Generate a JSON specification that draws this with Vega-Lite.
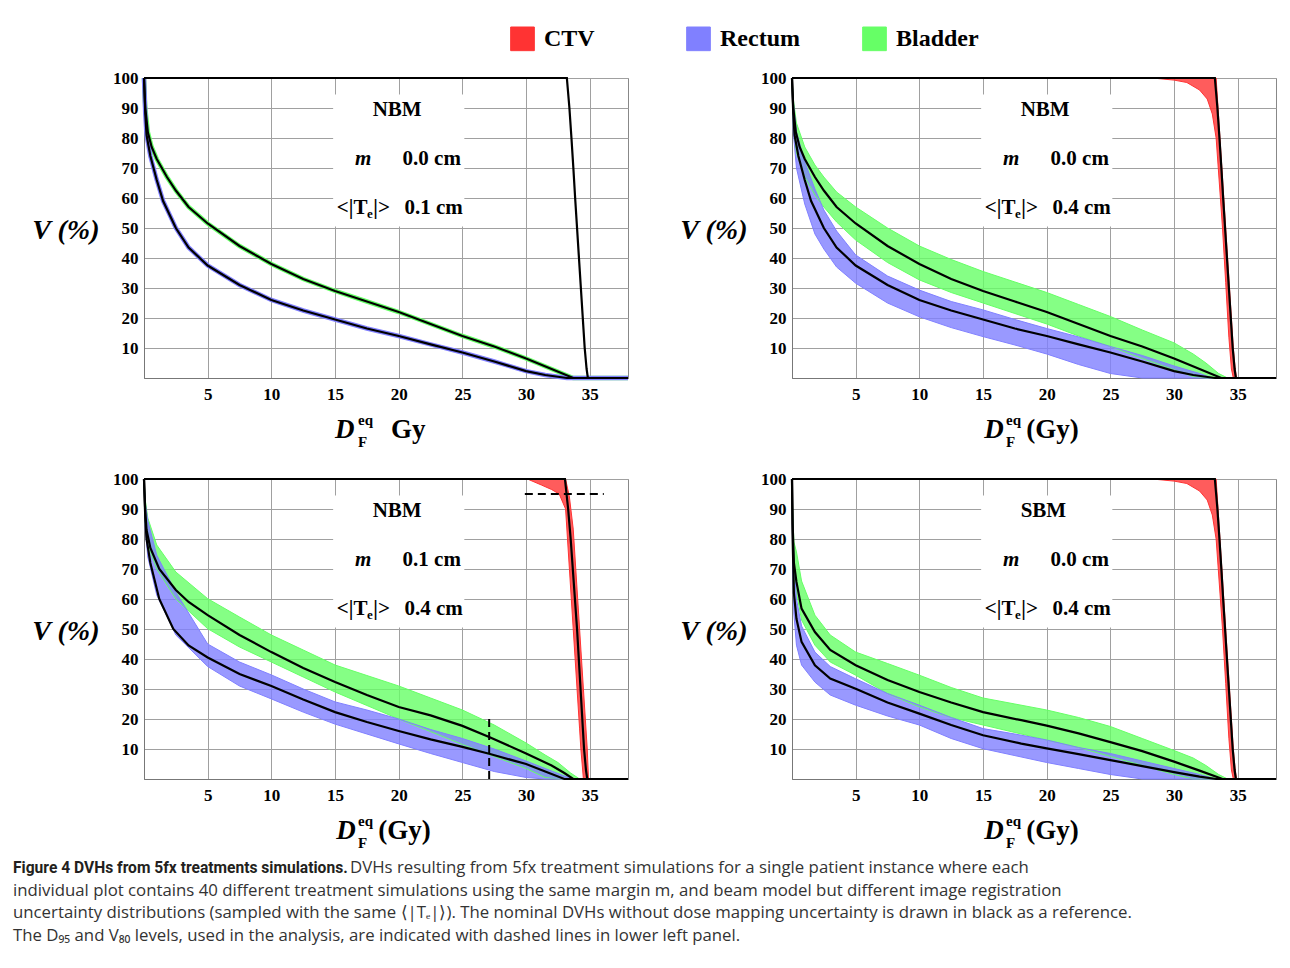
{
"$schema": "https://vega.github.io/schema/vega-lite/v6.json",
"background": "white",
"padding": {"left": 13, "top": 26, "right": 5, "bottom": 5},
"spacing": 5,
"datasets": {
"panels": [{"p":1,"r":1,"c":1},{"p":2,"r":1,"c":2},{"p":3,"r":2,"c":1},{"p":4,"r":2,"c":2}],
"cap": [
{"part":"head","line":1,"txt":"Figure 4 DVHs from 5fx treatments simulations."},
{"part":"tail","line":1,"txt":"DVHs resulting from 5fx treatment simulations for a single patient instance where each"},
{"part":"body","line":2,"txt":"individual plot contains 40 different treatment simulations using the same margin m, and beam model but different image registration"},
{"part":"body","line":3,"txt":"uncertainty distributions (sampled with the same ⟨|Tₑ|⟩). The nominal DVHs without dose mapping uncertainty is drawn in black as a reference."},
{"part":"body","line":4,"txt":"The D₉₅ and V₈₀ levels, used in the analysis, are indicated with dashed lines in lower left panel."}
],
"d": [
{"p":1,"t":"box","x":14.85,"x2":25.15,"y":94.5,"y2":50.5},
{"p":2,"t":"box","x":14.85,"x2":25.15,"y":94.5,"y2":50.5},
{"p":3,"t":"box","x":14.85,"x2":25.15,"y":94.5,"y2":50.5},
{"p":4,"t":"box","x":14.85,"x2":25.15,"y":94.5,"y2":50.5},

{"p":1,"t":"txt","k":"A","x":17.95,"y":87.4,"label":"NBM"},
{"p":1,"t":"txt","k":"B","x":16.56,"y":71,"label":"m"},
{"p":1,"t":"txt","k":"A","x":20.3,"y":71,"label":"0.0 cm"},
{"p":1,"t":"txt","k":"A","x":15.14,"y":54.6,"label":"<|T"},
{"p":1,"t":"txt","k":"C","x":17.5,"y":53.2,"label":"e"},
{"p":1,"t":"txt","k":"A","x":18.0,"y":54.6,"label":"|>"},
{"p":1,"t":"txt","k":"A","x":20.45,"y":54.6,"label":"0.1 cm"},
{"p":1,"t":"txt","k":"D","x":15.0,"y":-20,"label":"D"},
{"p":1,"t":"txt","k":"E","x":16.8,"y":-15.7,"label":"eq"},
{"p":1,"t":"txt","k":"E","x":16.8,"y":-23,"label":"F"},
{"p":1,"t":"txt","k":"F","x":19.4,"y":-20,"label":"Gy"},

{"p":2,"t":"txt","k":"A","x":17.95,"y":87.4,"label":"NBM"},
{"p":2,"t":"txt","k":"B","x":16.56,"y":71,"label":"m"},
{"p":2,"t":"txt","k":"A","x":20.3,"y":71,"label":"0.0 cm"},
{"p":2,"t":"txt","k":"A","x":15.14,"y":54.6,"label":"<|T"},
{"p":2,"t":"txt","k":"C","x":17.5,"y":53.2,"label":"e"},
{"p":2,"t":"txt","k":"A","x":18.0,"y":54.6,"label":"|>"},
{"p":2,"t":"txt","k":"A","x":20.45,"y":54.6,"label":"0.4 cm"},
{"p":2,"t":"txt","k":"D","x":15.1,"y":-20,"label":"D"},
{"p":2,"t":"txt","k":"E","x":16.8,"y":-15.7,"label":"eq"},
{"p":2,"t":"txt","k":"E","x":16.8,"y":-23,"label":"F"},
{"p":2,"t":"txt","k":"F","x":18.4,"y":-20,"label":"(Gy)"},

{"p":3,"t":"txt","k":"A","x":17.95,"y":87.4,"label":"NBM"},
{"p":3,"t":"txt","k":"B","x":16.56,"y":71,"label":"m"},
{"p":3,"t":"txt","k":"A","x":20.3,"y":71,"label":"0.1 cm"},
{"p":3,"t":"txt","k":"A","x":15.14,"y":54.6,"label":"<|T"},
{"p":3,"t":"txt","k":"C","x":17.5,"y":53.2,"label":"e"},
{"p":3,"t":"txt","k":"A","x":18.0,"y":54.6,"label":"|>"},
{"p":3,"t":"txt","k":"A","x":20.45,"y":54.6,"label":"0.4 cm"},
{"p":3,"t":"txt","k":"D","x":15.1,"y":-20,"label":"D"},
{"p":3,"t":"txt","k":"E","x":16.8,"y":-15.7,"label":"eq"},
{"p":3,"t":"txt","k":"E","x":16.8,"y":-23,"label":"F"},
{"p":3,"t":"txt","k":"F","x":18.4,"y":-20,"label":"(Gy)"},

{"p":4,"t":"txt","k":"A","x":17.95,"y":87.4,"label":"SBM"},
{"p":4,"t":"txt","k":"B","x":16.56,"y":71,"label":"m"},
{"p":4,"t":"txt","k":"A","x":20.3,"y":71,"label":"0.0 cm"},
{"p":4,"t":"txt","k":"A","x":15.14,"y":54.6,"label":"<|T"},
{"p":4,"t":"txt","k":"C","x":17.5,"y":53.2,"label":"e"},
{"p":4,"t":"txt","k":"A","x":18.0,"y":54.6,"label":"|>"},
{"p":4,"t":"txt","k":"A","x":20.45,"y":54.6,"label":"0.4 cm"},
{"p":4,"t":"txt","k":"D","x":15.1,"y":-20,"label":"D"},
{"p":4,"t":"txt","k":"E","x":16.8,"y":-15.7,"label":"eq"},
{"p":4,"t":"txt","k":"E","x":16.8,"y":-23,"label":"F"},
{"p":4,"t":"txt","k":"F","x":18.4,"y":-20,"label":"(Gy)"},

{"p":3,"t":"dash","g":"h","x":29.9,"y":95},
{"p":3,"t":"dash","g":"h","x":36.1,"y":95},
{"p":3,"t":"dash","g":"v","x":27.1,"y":0},
{"p":3,"t":"dash","g":"v","x":27.1,"y":20},

{"p":1,"s":"Bladder","t":"nom","x":0,"y":100},{"p":1,"s":"Bladder","t":"nom","x":0.1,"y":90},{"p":1,"s":"Bladder","t":"nom","x":0.3,"y":82},{"p":1,"s":"Bladder","t":"nom","x":0.6,"y":77},{"p":1,"s":"Bladder","t":"nom","x":1,"y":73},{"p":1,"s":"Bladder","t":"nom","x":1.8,"y":67},{"p":1,"s":"Bladder","t":"nom","x":2.5,"y":62.5},{"p":1,"s":"Bladder","t":"nom","x":3.5,"y":57},{"p":1,"s":"Bladder","t":"nom","x":5,"y":51.5},{"p":1,"s":"Bladder","t":"nom","x":7.5,"y":44},{"p":1,"s":"Bladder","t":"nom","x":10,"y":38},{"p":1,"s":"Bladder","t":"nom","x":12.5,"y":33},{"p":1,"s":"Bladder","t":"nom","x":15,"y":29},{"p":1,"s":"Bladder","t":"nom","x":17.5,"y":25.5},{"p":1,"s":"Bladder","t":"nom","x":20,"y":22},{"p":1,"s":"Bladder","t":"nom","x":22.5,"y":18},{"p":1,"s":"Bladder","t":"nom","x":25,"y":14},{"p":1,"s":"Bladder","t":"nom","x":27.5,"y":10.5},{"p":1,"s":"Bladder","t":"nom","x":30,"y":6.5},{"p":1,"s":"Bladder","t":"nom","x":32,"y":3},{"p":1,"s":"Bladder","t":"nom","x":33.7,"y":0},{"p":1,"s":"Bladder","t":"nom","x":38,"y":0},
{"p":1,"s":"Rectum","t":"nom","x":0,"y":100},{"p":1,"s":"Rectum","t":"nom","x":0.1,"y":88},{"p":1,"s":"Rectum","t":"nom","x":0.2,"y":81},{"p":1,"s":"Rectum","t":"nom","x":0.5,"y":74},{"p":1,"s":"Rectum","t":"nom","x":1,"y":66},{"p":1,"s":"Rectum","t":"nom","x":1.5,"y":59},{"p":1,"s":"Rectum","t":"nom","x":2.5,"y":50},{"p":1,"s":"Rectum","t":"nom","x":3.5,"y":43.5},{"p":1,"s":"Rectum","t":"nom","x":5,"y":37.5},{"p":1,"s":"Rectum","t":"nom","x":7.5,"y":31},{"p":1,"s":"Rectum","t":"nom","x":10,"y":26},{"p":1,"s":"Rectum","t":"nom","x":12.5,"y":22.5},{"p":1,"s":"Rectum","t":"nom","x":15,"y":19.5},{"p":1,"s":"Rectum","t":"nom","x":17.5,"y":16.5},{"p":1,"s":"Rectum","t":"nom","x":20,"y":14},{"p":1,"s":"Rectum","t":"nom","x":22.5,"y":11.2},{"p":1,"s":"Rectum","t":"nom","x":25,"y":8.5},{"p":1,"s":"Rectum","t":"nom","x":27.5,"y":5.5},{"p":1,"s":"Rectum","t":"nom","x":30,"y":2.3},{"p":1,"s":"Rectum","t":"nom","x":31.5,"y":1},{"p":1,"s":"Rectum","t":"nom","x":33.2,"y":0},{"p":1,"s":"Rectum","t":"nom","x":38,"y":0},
{"p":1,"s":"CTV","t":"nom","x":0,"y":100},{"p":1,"s":"CTV","t":"nom","x":33.2,"y":100},{"p":1,"s":"CTV","t":"nom","x":33.4,"y":90},{"p":1,"s":"CTV","t":"nom","x":33.56,"y":80},{"p":1,"s":"CTV","t":"nom","x":33.71,"y":70},{"p":1,"s":"CTV","t":"nom","x":33.85,"y":60},{"p":1,"s":"CTV","t":"nom","x":34,"y":50},{"p":1,"s":"CTV","t":"nom","x":34.3,"y":30},{"p":1,"s":"CTV","t":"nom","x":34.6,"y":10},{"p":1,"s":"CTV","t":"nom","x":34.75,"y":3},{"p":1,"s":"CTV","t":"nom","x":34.85,"y":0},{"p":1,"s":"CTV","t":"nom","x":38,"y":0},

{"p":2,"s":"Bladder","t":"nom","x":0,"y":100},{"p":2,"s":"Bladder","t":"nom","x":0.1,"y":90},{"p":2,"s":"Bladder","t":"nom","x":0.3,"y":82},{"p":2,"s":"Bladder","t":"nom","x":0.6,"y":77},{"p":2,"s":"Bladder","t":"nom","x":1,"y":73},{"p":2,"s":"Bladder","t":"nom","x":1.8,"y":67},{"p":2,"s":"Bladder","t":"nom","x":2.5,"y":62.5},{"p":2,"s":"Bladder","t":"nom","x":3.5,"y":57},{"p":2,"s":"Bladder","t":"nom","x":5,"y":51.5},{"p":2,"s":"Bladder","t":"nom","x":7.5,"y":44},{"p":2,"s":"Bladder","t":"nom","x":10,"y":38},{"p":2,"s":"Bladder","t":"nom","x":12.5,"y":33},{"p":2,"s":"Bladder","t":"nom","x":15,"y":29},{"p":2,"s":"Bladder","t":"nom","x":17.5,"y":25.5},{"p":2,"s":"Bladder","t":"nom","x":20,"y":22},{"p":2,"s":"Bladder","t":"nom","x":22.5,"y":18},{"p":2,"s":"Bladder","t":"nom","x":25,"y":14},{"p":2,"s":"Bladder","t":"nom","x":27.5,"y":10.5},{"p":2,"s":"Bladder","t":"nom","x":30,"y":6.5},{"p":2,"s":"Bladder","t":"nom","x":32,"y":3},{"p":2,"s":"Bladder","t":"nom","x":33.7,"y":0},{"p":2,"s":"Bladder","t":"nom","x":38,"y":0},
{"p":2,"s":"Rectum","t":"nom","x":0,"y":100},{"p":2,"s":"Rectum","t":"nom","x":0.1,"y":88},{"p":2,"s":"Rectum","t":"nom","x":0.2,"y":81},{"p":2,"s":"Rectum","t":"nom","x":0.5,"y":74},{"p":2,"s":"Rectum","t":"nom","x":1,"y":66},{"p":2,"s":"Rectum","t":"nom","x":1.5,"y":59},{"p":2,"s":"Rectum","t":"nom","x":2.5,"y":50},{"p":2,"s":"Rectum","t":"nom","x":3.5,"y":43.5},{"p":2,"s":"Rectum","t":"nom","x":5,"y":37.5},{"p":2,"s":"Rectum","t":"nom","x":7.5,"y":31},{"p":2,"s":"Rectum","t":"nom","x":10,"y":26},{"p":2,"s":"Rectum","t":"nom","x":12.5,"y":22.5},{"p":2,"s":"Rectum","t":"nom","x":15,"y":19.5},{"p":2,"s":"Rectum","t":"nom","x":17.5,"y":16.5},{"p":2,"s":"Rectum","t":"nom","x":20,"y":14},{"p":2,"s":"Rectum","t":"nom","x":22.5,"y":11.2},{"p":2,"s":"Rectum","t":"nom","x":25,"y":8.5},{"p":2,"s":"Rectum","t":"nom","x":27.5,"y":5.5},{"p":2,"s":"Rectum","t":"nom","x":30,"y":2.3},{"p":2,"s":"Rectum","t":"nom","x":31.5,"y":1},{"p":2,"s":"Rectum","t":"nom","x":33.2,"y":0},{"p":2,"s":"Rectum","t":"nom","x":38,"y":0},
{"p":2,"s":"CTV","t":"nom","x":0,"y":100},{"p":2,"s":"CTV","t":"nom","x":33.2,"y":100},{"p":2,"s":"CTV","t":"nom","x":33.4,"y":90},{"p":2,"s":"CTV","t":"nom","x":33.56,"y":80},{"p":2,"s":"CTV","t":"nom","x":33.71,"y":70},{"p":2,"s":"CTV","t":"nom","x":33.85,"y":60},{"p":2,"s":"CTV","t":"nom","x":34,"y":50},{"p":2,"s":"CTV","t":"nom","x":34.3,"y":30},{"p":2,"s":"CTV","t":"nom","x":34.6,"y":10},{"p":2,"s":"CTV","t":"nom","x":34.75,"y":3},{"p":2,"s":"CTV","t":"nom","x":34.85,"y":0},{"p":2,"s":"CTV","t":"nom","x":38,"y":0},

{"p":3,"s":"Bladder","t":"nom","x":0,"y":100},{"p":3,"s":"Bladder","t":"nom","x":0.1,"y":89},{"p":3,"s":"Bladder","t":"nom","x":0.2,"y":83},{"p":3,"s":"Bladder","t":"nom","x":0.5,"y":77},{"p":3,"s":"Bladder","t":"nom","x":1.2,"y":70},{"p":3,"s":"Bladder","t":"nom","x":2.5,"y":63},{"p":3,"s":"Bladder","t":"nom","x":3.5,"y":59},{"p":3,"s":"Bladder","t":"nom","x":5,"y":54.6},{"p":3,"s":"Bladder","t":"nom","x":7.5,"y":48},{"p":3,"s":"Bladder","t":"nom","x":10,"y":42.3},{"p":3,"s":"Bladder","t":"nom","x":12.5,"y":37},{"p":3,"s":"Bladder","t":"nom","x":15,"y":32.3},{"p":3,"s":"Bladder","t":"nom","x":17.5,"y":28},{"p":3,"s":"Bladder","t":"nom","x":20,"y":24},{"p":3,"s":"Bladder","t":"nom","x":22.5,"y":21.2},{"p":3,"s":"Bladder","t":"nom","x":25,"y":17.7},{"p":3,"s":"Bladder","t":"nom","x":27.1,"y":14},{"p":3,"s":"Bladder","t":"nom","x":30,"y":8.5},{"p":3,"s":"Bladder","t":"nom","x":32,"y":4.5},{"p":3,"s":"Bladder","t":"nom","x":33,"y":2},{"p":3,"s":"Bladder","t":"nom","x":33.7,"y":0},{"p":3,"s":"Bladder","t":"nom","x":38,"y":0},
{"p":3,"s":"Rectum","t":"nom","x":0,"y":100},{"p":3,"s":"Rectum","t":"nom","x":0.1,"y":87},{"p":3,"s":"Rectum","t":"nom","x":0.2,"y":80},{"p":3,"s":"Rectum","t":"nom","x":0.5,"y":72},{"p":3,"s":"Rectum","t":"nom","x":1.2,"y":60},{"p":3,"s":"Rectum","t":"nom","x":2.3,"y":50},{"p":3,"s":"Rectum","t":"nom","x":3.5,"y":44.5},{"p":3,"s":"Rectum","t":"nom","x":5,"y":40.5},{"p":3,"s":"Rectum","t":"nom","x":7.5,"y":35},{"p":3,"s":"Rectum","t":"nom","x":10,"y":31},{"p":3,"s":"Rectum","t":"nom","x":12.5,"y":26.5},{"p":3,"s":"Rectum","t":"nom","x":15,"y":22.3},{"p":3,"s":"Rectum","t":"nom","x":17.5,"y":19},{"p":3,"s":"Rectum","t":"nom","x":20,"y":16},{"p":3,"s":"Rectum","t":"nom","x":22.5,"y":13.2},{"p":3,"s":"Rectum","t":"nom","x":25,"y":10.7},{"p":3,"s":"Rectum","t":"nom","x":27.1,"y":8.4},{"p":3,"s":"Rectum","t":"nom","x":30,"y":5},{"p":3,"s":"Rectum","t":"nom","x":31.5,"y":2.5},{"p":3,"s":"Rectum","t":"nom","x":33,"y":0},{"p":3,"s":"Rectum","t":"nom","x":38,"y":0},
{"p":3,"s":"CTV","t":"nom","x":0,"y":100},{"p":3,"s":"CTV","t":"nom","x":33.05,"y":100},{"p":3,"s":"CTV","t":"nom","x":33.3,"y":90},{"p":3,"s":"CTV","t":"nom","x":33.5,"y":80},{"p":3,"s":"CTV","t":"nom","x":34,"y":50},{"p":3,"s":"CTV","t":"nom","x":34.55,"y":10},{"p":3,"s":"CTV","t":"nom","x":34.7,"y":3},{"p":3,"s":"CTV","t":"nom","x":34.8,"y":0},{"p":3,"s":"CTV","t":"nom","x":38,"y":0},

{"p":4,"s":"Bladder","t":"nom","x":0,"y":100},{"p":4,"s":"Bladder","t":"nom","x":0.05,"y":85},{"p":4,"s":"Bladder","t":"nom","x":0.15,"y":72},{"p":4,"s":"Bladder","t":"nom","x":0.35,"y":65.7},{"p":4,"s":"Bladder","t":"nom","x":0.75,"y":56.8},{"p":4,"s":"Bladder","t":"nom","x":1.8,"y":49},{"p":4,"s":"Bladder","t":"nom","x":3,"y":43},{"p":4,"s":"Bladder","t":"nom","x":5,"y":37.9},{"p":4,"s":"Bladder","t":"nom","x":7.5,"y":33},{"p":4,"s":"Bladder","t":"nom","x":10,"y":29},{"p":4,"s":"Bladder","t":"nom","x":12.5,"y":25.5},{"p":4,"s":"Bladder","t":"nom","x":15,"y":22.3},{"p":4,"s":"Bladder","t":"nom","x":18,"y":19.6},{"p":4,"s":"Bladder","t":"nom","x":20,"y":17.8},{"p":4,"s":"Bladder","t":"nom","x":22.5,"y":15.2},{"p":4,"s":"Bladder","t":"nom","x":25,"y":12.3},{"p":4,"s":"Bladder","t":"nom","x":27.5,"y":9.3},{"p":4,"s":"Bladder","t":"nom","x":30,"y":5.8},{"p":4,"s":"Bladder","t":"nom","x":32,"y":2.8},{"p":4,"s":"Bladder","t":"nom","x":33.8,"y":0},{"p":4,"s":"Bladder","t":"nom","x":38,"y":0},
{"p":4,"s":"Rectum","t":"nom","x":0,"y":100},{"p":4,"s":"Rectum","t":"nom","x":0.05,"y":80},{"p":4,"s":"Rectum","t":"nom","x":0.15,"y":62},{"p":4,"s":"Rectum","t":"nom","x":0.35,"y":53.4},{"p":4,"s":"Rectum","t":"nom","x":0.75,"y":45.7},{"p":4,"s":"Rectum","t":"nom","x":1.8,"y":37.9},{"p":4,"s":"Rectum","t":"nom","x":3,"y":33.5},{"p":4,"s":"Rectum","t":"nom","x":5,"y":30.1},{"p":4,"s":"Rectum","t":"nom","x":7.5,"y":25.5},{"p":4,"s":"Rectum","t":"nom","x":10,"y":21.8},{"p":4,"s":"Rectum","t":"nom","x":12.5,"y":18},{"p":4,"s":"Rectum","t":"nom","x":15,"y":14.6},{"p":4,"s":"Rectum","t":"nom","x":18,"y":11.8},{"p":4,"s":"Rectum","t":"nom","x":20,"y":10.2},{"p":4,"s":"Rectum","t":"nom","x":22.5,"y":8.3},{"p":4,"s":"Rectum","t":"nom","x":25,"y":6.3},{"p":4,"s":"Rectum","t":"nom","x":27.5,"y":4.3},{"p":4,"s":"Rectum","t":"nom","x":30,"y":2.3},{"p":4,"s":"Rectum","t":"nom","x":32,"y":0.8},{"p":4,"s":"Rectum","t":"nom","x":33.3,"y":0},{"p":4,"s":"Rectum","t":"nom","x":38,"y":0},
{"p":4,"s":"CTV","t":"nom","x":0,"y":100},{"p":4,"s":"CTV","t":"nom","x":33.2,"y":100},{"p":4,"s":"CTV","t":"nom","x":33.4,"y":90},{"p":4,"s":"CTV","t":"nom","x":33.56,"y":80},{"p":4,"s":"CTV","t":"nom","x":33.71,"y":70},{"p":4,"s":"CTV","t":"nom","x":33.85,"y":60},{"p":4,"s":"CTV","t":"nom","x":34,"y":50},{"p":4,"s":"CTV","t":"nom","x":34.3,"y":30},{"p":4,"s":"CTV","t":"nom","x":34.6,"y":10},{"p":4,"s":"CTV","t":"nom","x":34.75,"y":3},{"p":4,"s":"CTV","t":"nom","x":34.85,"y":0},{"p":4,"s":"CTV","t":"nom","x":38,"y":0},

{"p":2,"s":"Bladder","t":"band","x":0,"y":100,"y2":100},{"p":2,"s":"Bladder","t":"band","x":0.1,"y":84,"y2":93},{"p":2,"s":"Bladder","t":"band","x":0.35,"y":75,"y2":85},{"p":2,"s":"Bladder","t":"band","x":1,"y":67,"y2":77},{"p":2,"s":"Bladder","t":"band","x":1.8,"y":61,"y2":71},{"p":2,"s":"Bladder","t":"band","x":2.5,"y":57,"y2":67},{"p":2,"s":"Bladder","t":"band","x":3.5,"y":52,"y2":62},{"p":2,"s":"Bladder","t":"band","x":5,"y":46,"y2":57},{"p":2,"s":"Bladder","t":"band","x":7.5,"y":38.5,"y2":50},{"p":2,"s":"Bladder","t":"band","x":10,"y":32.7,"y2":44},{"p":2,"s":"Bladder","t":"band","x":12.5,"y":28.5,"y2":39.5},{"p":2,"s":"Bladder","t":"band","x":15,"y":25,"y2":35.5},{"p":2,"s":"Bladder","t":"band","x":17.5,"y":21.5,"y2":32},{"p":2,"s":"Bladder","t":"band","x":20,"y":18,"y2":28.5},{"p":2,"s":"Bladder","t":"band","x":22.5,"y":14,"y2":24.5},{"p":2,"s":"Bladder","t":"band","x":25,"y":10.5,"y2":20.5},{"p":2,"s":"Bladder","t":"band","x":27.5,"y":6.5,"y2":16},{"p":2,"s":"Bladder","t":"band","x":30,"y":2.7,"y2":11.7},{"p":2,"s":"Bladder","t":"band","x":31.5,"y":0.5,"y2":8},{"p":2,"s":"Bladder","t":"band","x":32.5,"y":0,"y2":5},{"p":2,"s":"Bladder","t":"band","x":33.5,"y":0,"y2":1.5},{"p":2,"s":"Bladder","t":"band","x":34.2,"y":0,"y2":0},
{"p":2,"s":"Rectum","t":"band","x":0,"y":100,"y2":100},{"p":2,"s":"Rectum","t":"band","x":0.1,"y":82,"y2":92},{"p":2,"s":"Rectum","t":"band","x":0.35,"y":70,"y2":82},{"p":2,"s":"Rectum","t":"band","x":1,"y":58,"y2":72},{"p":2,"s":"Rectum","t":"band","x":1.8,"y":48,"y2":63},{"p":2,"s":"Rectum","t":"band","x":2.5,"y":43,"y2":56},{"p":2,"s":"Rectum","t":"band","x":3.5,"y":37,"y2":49},{"p":2,"s":"Rectum","t":"band","x":5,"y":31.6,"y2":41},{"p":2,"s":"Rectum","t":"band","x":7.5,"y":25,"y2":34},{"p":2,"s":"Rectum","t":"band","x":10,"y":20.4,"y2":29.3},{"p":2,"s":"Rectum","t":"band","x":12.5,"y":16.8,"y2":25.5},{"p":2,"s":"Rectum","t":"band","x":15,"y":13.8,"y2":22.7},{"p":2,"s":"Rectum","t":"band","x":17.5,"y":11,"y2":19.5},{"p":2,"s":"Rectum","t":"band","x":20,"y":8,"y2":16.5},{"p":2,"s":"Rectum","t":"band","x":22.5,"y":4.5,"y2":13.7},{"p":2,"s":"Rectum","t":"band","x":25,"y":1.5,"y2":10.5},{"p":2,"s":"Rectum","t":"band","x":27.5,"y":0,"y2":7.5},{"p":2,"s":"Rectum","t":"band","x":30,"y":0,"y2":4},{"p":2,"s":"Rectum","t":"band","x":32,"y":0,"y2":1.5},{"p":2,"s":"Rectum","t":"band","x":33,"y":0,"y2":0},
{"p":2,"s":"CTV","t":"band","x":28.3,"y":100,"y2":100},{"p":2,"s":"CTV","t":"band","x":30,"y":99.3,"y2":100},{"p":2,"s":"CTV","t":"band","x":31,"y":98.5,"y2":100},{"p":2,"s":"CTV","t":"band","x":32,"y":96,"y2":100},{"p":2,"s":"CTV","t":"band","x":32.6,"y":93,"y2":100},{"p":2,"s":"CTV","t":"band","x":33,"y":88,"y2":100},{"p":2,"s":"CTV","t":"band","x":33.3,"y":80,"y2":100},{"p":2,"s":"CTV","t":"band","x":33.45,"y":71,"y2":90},{"p":2,"s":"CTV","t":"band","x":33.6,"y":62,"y2":80},{"p":2,"s":"CTV","t":"band","x":33.8,"y":50,"y2":66.7},{"p":2,"s":"CTV","t":"band","x":34.05,"y":31.8,"y2":50},{"p":2,"s":"CTV","t":"band","x":34.3,"y":13.6,"y2":33.3},{"p":2,"s":"CTV","t":"band","x":34.5,"y":3,"y2":20},{"p":2,"s":"CTV","t":"band","x":34.65,"y":0,"y2":10},{"p":2,"s":"CTV","t":"band","x":34.8,"y":0,"y2":3},{"p":2,"s":"CTV","t":"band","x":34.9,"y":0,"y2":0},

{"p":3,"s":"Bladder","t":"band","x":0,"y":100,"y2":100},{"p":3,"s":"Bladder","t":"band","x":0.1,"y":85,"y2":93},{"p":3,"s":"Bladder","t":"band","x":0.3,"y":78,"y2":87},{"p":3,"s":"Bladder","t":"band","x":1,"y":70,"y2":78},{"p":3,"s":"Bladder","t":"band","x":2.5,"y":60,"y2":69},{"p":3,"s":"Bladder","t":"band","x":5,"y":50.1,"y2":60.1},{"p":3,"s":"Bladder","t":"band","x":7.5,"y":44,"y2":54},{"p":3,"s":"Bladder","t":"band","x":10,"y":39,"y2":48},{"p":3,"s":"Bladder","t":"band","x":12.5,"y":34,"y2":43},{"p":3,"s":"Bladder","t":"band","x":15,"y":29,"y2":38},{"p":3,"s":"Bladder","t":"band","x":17.5,"y":24.5,"y2":34.5},{"p":3,"s":"Bladder","t":"band","x":20,"y":20,"y2":31},{"p":3,"s":"Bladder","t":"band","x":22.5,"y":15.8,"y2":27},{"p":3,"s":"Bladder","t":"band","x":25,"y":11.5,"y2":23},{"p":3,"s":"Bladder","t":"band","x":27.5,"y":7.5,"y2":18},{"p":3,"s":"Bladder","t":"band","x":30,"y":3.5,"y2":12},{"p":3,"s":"Bladder","t":"band","x":31.5,"y":0.5,"y2":8},{"p":3,"s":"Bladder","t":"band","x":32.5,"y":0,"y2":5.5},{"p":3,"s":"Bladder","t":"band","x":33.5,"y":0,"y2":2},{"p":3,"s":"Bladder","t":"band","x":34.2,"y":0,"y2":0},
{"p":3,"s":"Rectum","t":"band","x":0,"y":100,"y2":100},{"p":3,"s":"Rectum","t":"band","x":0.1,"y":83,"y2":92},{"p":3,"s":"Rectum","t":"band","x":0.3,"y":74,"y2":86},{"p":3,"s":"Rectum","t":"band","x":1,"y":61.3,"y2":74.6},{"p":3,"s":"Rectum","t":"band","x":2.5,"y":48,"y2":62.3},{"p":3,"s":"Rectum","t":"band","x":5,"y":37.5,"y2":45},{"p":3,"s":"Rectum","t":"band","x":7.5,"y":31,"y2":39},{"p":3,"s":"Rectum","t":"band","x":10,"y":26.7,"y2":34.7},{"p":3,"s":"Rectum","t":"band","x":12.5,"y":22.3,"y2":30},{"p":3,"s":"Rectum","t":"band","x":15,"y":18.3,"y2":25.7},{"p":3,"s":"Rectum","t":"band","x":17.5,"y":15,"y2":23},{"p":3,"s":"Rectum","t":"band","x":20,"y":11.7,"y2":20},{"p":3,"s":"Rectum","t":"band","x":22.5,"y":8.5,"y2":16.5},{"p":3,"s":"Rectum","t":"band","x":25,"y":5.5,"y2":13.5},{"p":3,"s":"Rectum","t":"band","x":27.5,"y":2.5,"y2":10},{"p":3,"s":"Rectum","t":"band","x":30,"y":0.5,"y2":6},{"p":3,"s":"Rectum","t":"band","x":31.5,"y":0,"y2":3.5},{"p":3,"s":"Rectum","t":"band","x":33,"y":0,"y2":1},{"p":3,"s":"Rectum","t":"band","x":33.8,"y":0,"y2":0},
{"p":3,"s":"CTV","t":"band","x":30.1,"y":100,"y2":100},{"p":3,"s":"CTV","t":"band","x":31.2,"y":98,"y2":100},{"p":3,"s":"CTV","t":"band","x":32,"y":96.5,"y2":100},{"p":3,"s":"CTV","t":"band","x":32.6,"y":95,"y2":100},{"p":3,"s":"CTV","t":"band","x":33.1,"y":90,"y2":100},{"p":3,"s":"CTV","t":"band","x":33.4,"y":70,"y2":94},{"p":3,"s":"CTV","t":"band","x":33.7,"y":50,"y2":83.3},{"p":3,"s":"CTV","t":"band","x":34,"y":30,"y2":63.3},{"p":3,"s":"CTV","t":"band","x":34.2,"y":16.7,"y2":50},{"p":3,"s":"CTV","t":"band","x":34.3,"y":10,"y2":43.3},{"p":3,"s":"CTV","t":"band","x":34.5,"y":0,"y2":30},{"p":3,"s":"CTV","t":"band","x":34.8,"y":0,"y2":10},{"p":3,"s":"CTV","t":"band","x":34.9,"y":0,"y2":0},

{"p":4,"s":"Bladder","t":"band","x":0,"y":100,"y2":100},{"p":4,"s":"Bladder","t":"band","x":0.05,"y":80,"y2":90},{"p":4,"s":"Bladder","t":"band","x":0.15,"y":67,"y2":79},{"p":4,"s":"Bladder","t":"band","x":0.35,"y":62.3,"y2":75.7},{"p":4,"s":"Bladder","t":"band","x":0.75,"y":53,"y2":66},{"p":4,"s":"Bladder","t":"band","x":1.8,"y":44.6,"y2":54.6},{"p":4,"s":"Bladder","t":"band","x":3,"y":39,"y2":48},{"p":4,"s":"Bladder","t":"band","x":5,"y":34.6,"y2":42.3},{"p":4,"s":"Bladder","t":"band","x":7.5,"y":28.5,"y2":38.5},{"p":4,"s":"Bladder","t":"band","x":10,"y":24,"y2":34.6},{"p":4,"s":"Bladder","t":"band","x":12.5,"y":20.5,"y2":30.5},{"p":4,"s":"Bladder","t":"band","x":15,"y":18,"y2":27},{"p":4,"s":"Bladder","t":"band","x":17.5,"y":15.5,"y2":25},{"p":4,"s":"Bladder","t":"band","x":20,"y":13,"y2":23},{"p":4,"s":"Bladder","t":"band","x":22.5,"y":10.5,"y2":20.5},{"p":4,"s":"Bladder","t":"band","x":25,"y":7.5,"y2":17.5},{"p":4,"s":"Bladder","t":"band","x":27.5,"y":4.5,"y2":13.5},{"p":4,"s":"Bladder","t":"band","x":30,"y":1.5,"y2":9.5},{"p":4,"s":"Bladder","t":"band","x":31.5,"y":0,"y2":7},{"p":4,"s":"Bladder","t":"band","x":32.5,"y":0,"y2":4.5},{"p":4,"s":"Bladder","t":"band","x":33.5,"y":0,"y2":1.5},{"p":4,"s":"Bladder","t":"band","x":34.2,"y":0,"y2":0},
{"p":4,"s":"Rectum","t":"band","x":0,"y":100,"y2":100},{"p":4,"s":"Rectum","t":"band","x":0.05,"y":72,"y2":88},{"p":4,"s":"Rectum","t":"band","x":0.15,"y":55,"y2":72},{"p":4,"s":"Rectum","t":"band","x":0.35,"y":44.6,"y2":60},{"p":4,"s":"Rectum","t":"band","x":0.75,"y":38,"y2":51},{"p":4,"s":"Rectum","t":"band","x":1.8,"y":32.3,"y2":42.3},{"p":4,"s":"Rectum","t":"band","x":3,"y":28,"y2":37.5},{"p":4,"s":"Rectum","t":"band","x":5,"y":24.6,"y2":33.4},{"p":4,"s":"Rectum","t":"band","x":7.5,"y":21,"y2":28.5},{"p":4,"s":"Rectum","t":"band","x":10,"y":18,"y2":24.6},{"p":4,"s":"Rectum","t":"band","x":12.5,"y":13.5,"y2":20.5},{"p":4,"s":"Rectum","t":"band","x":15,"y":10.1,"y2":16.8},{"p":4,"s":"Rectum","t":"band","x":17.5,"y":7.8,"y2":15},{"p":4,"s":"Rectum","t":"band","x":20,"y":5.5,"y2":13},{"p":4,"s":"Rectum","t":"band","x":22.5,"y":3.5,"y2":10.5},{"p":4,"s":"Rectum","t":"band","x":25,"y":1.5,"y2":8.5},{"p":4,"s":"Rectum","t":"band","x":27.5,"y":0,"y2":6},{"p":4,"s":"Rectum","t":"band","x":30,"y":0,"y2":3.5},{"p":4,"s":"Rectum","t":"band","x":32,"y":0,"y2":1.5},{"p":4,"s":"Rectum","t":"band","x":33.3,"y":0,"y2":0},
{"p":4,"s":"CTV","t":"band","x":28.3,"y":100,"y2":100},{"p":4,"s":"CTV","t":"band","x":30,"y":99.3,"y2":100},{"p":4,"s":"CTV","t":"band","x":31,"y":98.5,"y2":100},{"p":4,"s":"CTV","t":"band","x":32,"y":96,"y2":100},{"p":4,"s":"CTV","t":"band","x":32.6,"y":93,"y2":100},{"p":4,"s":"CTV","t":"band","x":33,"y":88,"y2":100},{"p":4,"s":"CTV","t":"band","x":33.3,"y":80,"y2":100},{"p":4,"s":"CTV","t":"band","x":33.45,"y":71,"y2":90},{"p":4,"s":"CTV","t":"band","x":33.6,"y":62,"y2":80},{"p":4,"s":"CTV","t":"band","x":33.8,"y":50,"y2":66.7},{"p":4,"s":"CTV","t":"band","x":34.05,"y":31.8,"y2":50},{"p":4,"s":"CTV","t":"band","x":34.3,"y":13.6,"y2":33.3},{"p":4,"s":"CTV","t":"band","x":34.5,"y":3,"y2":20},{"p":4,"s":"CTV","t":"band","x":34.65,"y":0,"y2":10},{"p":4,"s":"CTV","t":"band","x":34.8,"y":0,"y2":3},{"p":4,"s":"CTV","t":"band","x":34.9,"y":0,"y2":0}
]
},
"vconcat": [
{
"data": {"name": "d"},
"transform": [{"lookup": "p", "from": {"data": {"name": "panels"}, "key": "p", "fields": ["r", "c"]}}],
"facet": {
"row": {"field": "r", "type": "ordinal", "title": null, "header": {"labels": false, "title": null, "labelPadding": 0, "titlePadding": 0}},
"column": {"field": "c", "type": "ordinal", "title": null, "header": {"labels": false, "title": null, "labelPadding": 0, "titlePadding": 0}}
},
"spacing": {"row": 18, "column": 40},
"resolve": {"axis": {"x": "independent", "y": "independent"}},
"spec": {
"width": 484,
"height": 300,
"encoding": {
"x": {"field": "x", "type": "quantitative", "title": null, "scale": {"domain": [0, 38], "nice": false, "zero": false}, "axis": {"values": [5,10,15,20,25,30,35], "labelPadding": 8}},
"y": {"field": "y", "type": "quantitative", "title": "V (%)", "scale": {"domain": [0, 100], "nice": false}, "axis": {"values": [10,20,30,40,50,60,70,80,90,100], "labelPadding": 6}}
},
"layer": [
{"transform": [{"filter": "datum.t === 'box'"}], "mark": {"type": "rect", "fill": "white"}, "encoding": {"x2": {"field": "x2"}, "y2": {"field": "y2"}}},
{"transform": [{"filter": "datum.t === 'band'"}], "mark": {"type": "area", "opacity": 0.8},
 "encoding": {"y2": {"field": "y2"},
  "color": {"field": "s", "type": "nominal", "scale": {"domain": ["CTV", "Rectum", "Bladder"], "range": ["#ff3333", "#8080ff", "#66ff66"]},
   "legend": {"title": null, "orient": "none", "legendX": 366, "legendY": -52, "direction": "horizontal", "columns": 3, "gridAlign": "all", "columnPadding": 57, "symbolType": "square", "symbolSize": 560, "symbolStrokeColor": "#222", "symbolStrokeWidth": 1, "symbolOpacity": 1, "labelFont": "Liberation Serif", "labelFontWeight": "bold", "labelFontSize": 24, "labelColor": "#000", "labelOffset": 9}}}},
{"transform": [{"filter": "datum.t === 'band'"}], "mark": {"type": "line", "strokeWidth": 1},
 "encoding": {"color": {"field": "s", "type": "nominal", "legend": null}}},
{"transform": [{"filter": "datum.t === 'band'"}], "mark": {"type": "line", "strokeWidth": 1},
 "encoding": {"y": {"field": "y2", "type": "quantitative", "title": "V (%)"}, "color": {"field": "s", "type": "nominal", "legend": null}}},
{"transform": [{"filter": "datum.t === 'nom' && datum.p === 1 && datum.s !== 'CTV'"}], "mark": {"type": "line", "strokeWidth": 4.5},
 "encoding": {"color": {"field": "s", "type": "nominal", "legend": null}}},
{"transform": [{"filter": "datum.t === 'nom'"}], "mark": {"type": "line", "strokeWidth": 2.2, "color": "black"},
 "encoding": {"detail": {"field": "s"}}},
{"transform": [{"filter": "datum.t === 'dash'"}], "mark": {"type": "line", "strokeWidth": 2, "color": "black", "strokeDash": [8, 5]},
 "encoding": {"detail": {"field": "g"}}},
{"transform": [{"filter": "datum.t === 'txt' && datum.k === 'A'"}], "mark": {"type": "text", "align": "left", "baseline": "alphabetic", "font": "Liberation Serif", "fontWeight": "bold", "fontSize": 21, "color": "black"}, "encoding": {"text": {"field": "label"}}},
{"transform": [{"filter": "datum.t === 'txt' && datum.k === 'B'"}], "mark": {"type": "text", "align": "left", "baseline": "alphabetic", "font": "Liberation Serif", "fontWeight": "bold", "fontStyle": "italic", "fontSize": 21, "color": "black"}, "encoding": {"text": {"field": "label"}}},
{"transform": [{"filter": "datum.t === 'txt' && datum.k === 'C'"}], "mark": {"type": "text", "align": "left", "baseline": "alphabetic", "font": "Liberation Serif", "fontWeight": "bold", "fontSize": 13, "color": "black"}, "encoding": {"text": {"field": "label"}}},
{"transform": [{"filter": "datum.t === 'txt' && datum.k === 'D'"}], "mark": {"type": "text", "align": "left", "baseline": "alphabetic", "font": "Liberation Serif", "fontWeight": "bold", "fontStyle": "italic", "fontSize": 27, "color": "black"}, "encoding": {"text": {"field": "label"}}},
{"transform": [{"filter": "datum.t === 'txt' && datum.k === 'E'"}], "mark": {"type": "text", "align": "left", "baseline": "alphabetic", "font": "Liberation Serif", "fontWeight": "bold", "fontSize": 15, "color": "black"}, "encoding": {"text": {"field": "label"}}},
{"transform": [{"filter": "datum.t === 'txt' && datum.k === 'F'"}], "mark": {"type": "text", "align": "left", "baseline": "alphabetic", "font": "Liberation Serif", "fontWeight": "bold", "fontSize": 27, "color": "black"}, "encoding": {"text": {"field": "label"}}}
]
}
},
{
"data": {"name": "cap"},
"width": 1140,
"height": 90,
"view": {"stroke": null},
"encoding": {
"x": {"datum": 0, "type": "quantitative", "scale": {"domain": [0, 1]}, "axis": null},
"y": {"field": "line", "type": "ordinal", "scale": {"type": "point", "padding": 0.5}, "axis": null},
"text": {"field": "txt"}
},
"layer": [
{"transform": [{"filter": "datum.part === 'head'"}], "mark": {"type": "text", "align": "left", "baseline": "middle", "font": "Roboto", "fontSize": 15.6, "fontWeight": "bold", "color": "#231f20", "dx": -131}},
{"transform": [{"filter": "datum.part === 'tail'"}], "mark": {"type": "text", "align": "left", "baseline": "middle", "font": "Open Sans", "fontSize": 16.8, "color": "#333", "dx": 206}},
{"transform": [{"filter": "datum.part === 'body'"}], "mark": {"type": "text", "align": "left", "baseline": "middle", "font": "Open Sans", "fontSize": 16.8, "color": "#333", "dx": -131}}
]
}
],
"config": {
"view": {"stroke": "#888"},
"axis": {"labelFont": "Liberation Serif", "labelFontWeight": "bold", "labelFontSize": 17, "labelColor": "#000", "domainColor": "#777", "gridColor": "#a0a0a0", "gridWidth": 1, "ticks": false, "titleFont": "Liberation Serif", "titleFontWeight": "bold", "titleFontStyle": "italic", "titleFontSize": 28, "titleColor": "#000"},
"axisY": {"titleAngle": 0, "titleAlign": "right", "titleBaseline": "middle", "titleX": -45, "titleY": 152}
}
}
